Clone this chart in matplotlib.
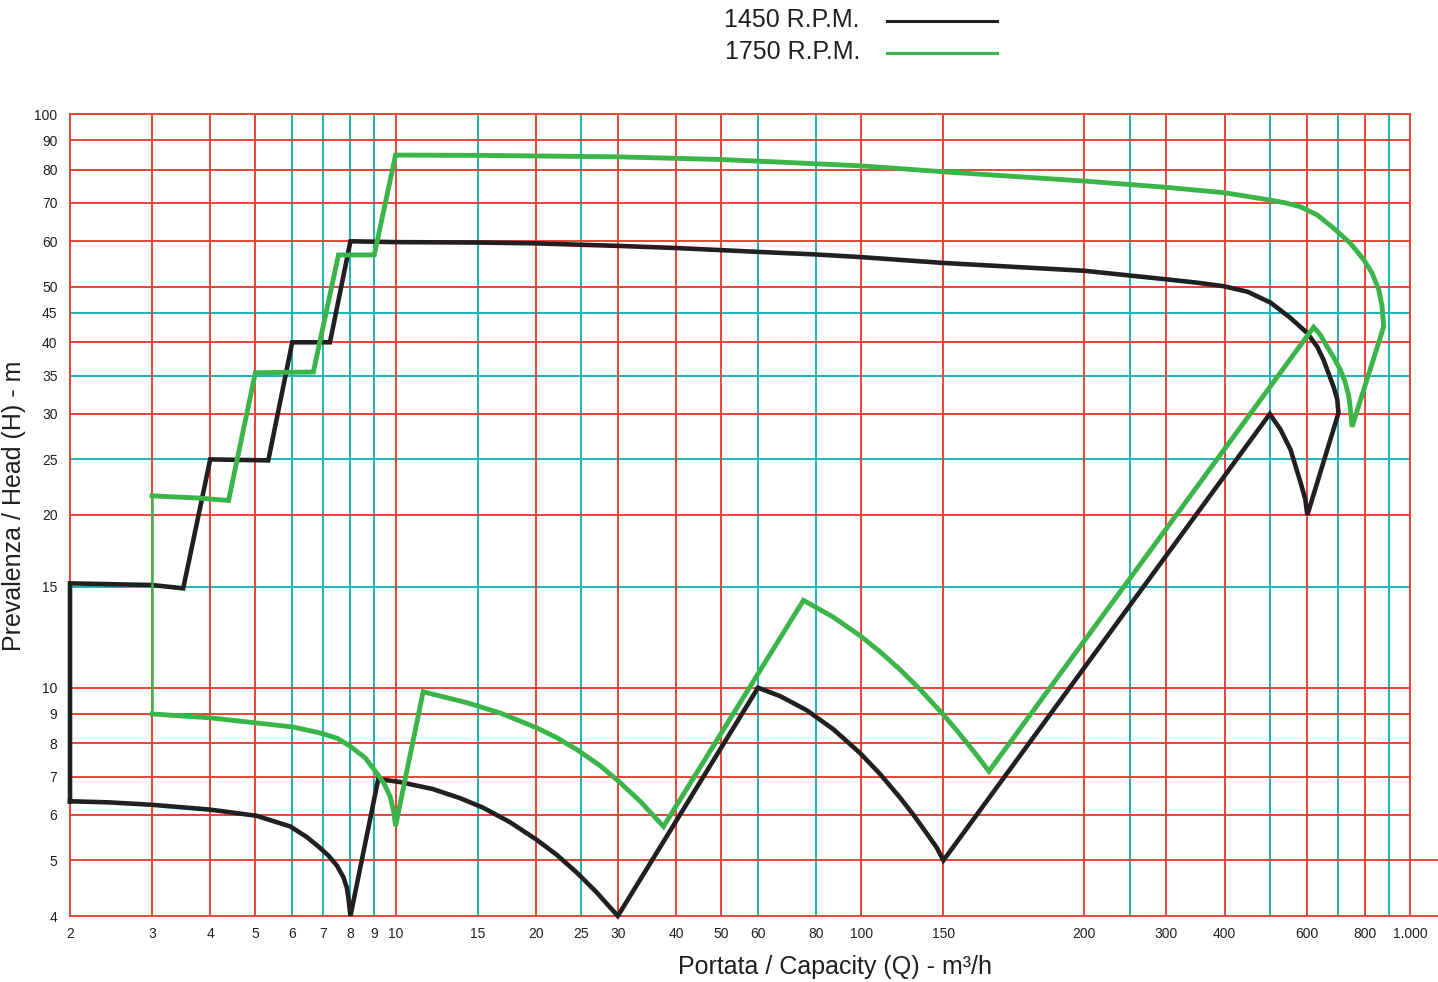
import numpy as np
import matplotlib
matplotlib.use("Agg")
import matplotlib.pyplot as plt
from matplotlib.lines import Line2D
from matplotlib.ticker import NullLocator, FixedLocator, FixedFormatter

plt.rcParams['font.family'] = ['Liberation Sans', 'DejaVu Sans']

# ---------------- data ----------------
# 1450 R.P.M. envelope (Q m3/h, H m)
q_1450 = [2, 2, 3, 3.5, 4, 5.33, 6, 7.23, 8, 10, 15, 20, 30, 40, 60, 80, 100, 150, 200, 250, 300, 350, 398, 448,
          502, 554, 602, 632, 652, 685, 698, 702, 602, 596, 582, 554, 527, 500, 150, 145.2, 138.2, 129.4,
          121.1, 109.7, 99.4, 87.1, 76.4, 66.9, 60, 30, 27.0, 24.5, 22.2, 20.1, 17.6, 15.4, 13.75, 12.0, 10.2,
          9.18, 8, 7.92, 7.86, 7.73, 7.48, 7.17, 6.88, 6.45, 5.94, 5.03, 4.0, 3.0, 2.44, 2]
h_1450 = [6.34, 15.2, 15.1, 14.9, 25.0, 24.9, 40, 40, 60, 59.8, 59.7, 59.5, 58.9, 58.4, 57.5, 56.9, 56.3, 55.0, 53.3,
          52.3, 51.5, 50.8, 50.1, 49.0, 46.9, 44.1, 41.5, 39.3, 37.3, 33.5, 31.8, 30.1, 20.0, 21.3, 22.8, 26.0,
          28.2, 30.0, 5.0, 5.26, 5.57, 6.00, 6.43, 7.07, 7.69, 8.46, 9.13, 9.67, 10.0, 4.0, 4.40, 4.76,
          5.11, 5.43, 5.83, 6.18, 6.42, 6.66, 6.85, 6.93, 4.0, 4.30, 4.48, 4.67, 4.90, 5.10, 5.26, 5.49, 5.73,
          5.98, 6.13, 6.25, 6.31, 6.34]

# 1750 R.P.M. envelope
q_1750 = [3, 3, 3.8, 4.38, 5.0, 6.66, 7.54, 9.0, 10.0, 15, 20, 30, 50, 70, 100, 150, 200, 300, 400, 500, 540,
          582, 632, 686, 745, 796, 829, 857, 871, 878, 751, 745, 739, 725, 709, 685, 664, 642, 621, 164.6,
          161.2, 157.4, 153.2, 147.6, 133.7, 121.1, 109.7, 99.4, 87.1, 75.1, 37.6, 33.5, 30.3, 27.5, 24.5,
          22.2, 20.1, 16.8, 14.2, 12.6, 11.46, 10.0, 9.9, 9.73, 9.45, 9.11, 8.6, 8.0, 7.5, 6.88, 6.03, 5.03,
          4.0, 3]
h_1750 = [9.0, 21.6, 21.4, 21.2, 35.4, 35.5, 56.8, 56.8, 84.8, 84.7, 84.5, 84.2, 83.3, 82.3, 81.2, 79.3, 76.4,
          74.5, 72.9, 70.8, 70.0, 68.9, 66.7, 63.2, 59.5, 55.7, 52.8, 49.4, 46.2, 42.6, 28.5, 30.5, 32.2, 34.2,
          35.8, 37.7, 39.3, 41.2, 42.5, 7.15, 7.55, 8.01, 8.55, 9.10, 9.93, 10.75, 11.55, 12.32, 13.27, 14.2,
          5.73, 6.34, 6.84, 7.31, 7.80, 8.18, 8.51, 9.03, 9.42, 9.65, 9.84, 5.74, 6.1, 6.47, 6.8, 7.10, 7.55,
          7.90, 8.16, 8.34, 8.54, 8.68, 8.86, 9.0]

x_ticks = [2, 3, 4, 5, 6, 7, 8, 9, 10, 15, 20, 25, 30, 40, 50, 60, 80, 100, 150, 200, 300, 400, 600, 800, 1000]
x_tick_labels = ['2', '3', '4', '5', '6', '7', '8', '9', '10', '15', '20', '25', '30', '40', '50', '60', '80',
                 '100', '150', '200', '300', '400', '600', '800', '1.000']
y_ticks = [4, 5, 6, 7, 8, 9, 10, 15, 20, 25, 30, 35, 40, 45, 50, 60, 70, 80, 90, 100]

x_grid_red = [2, 3, 4, 5, 10, 20, 30, 40, 50, 100, 150, 200, 300, 400, 600, 800, 1000]
x_grid_cyan = [6, 7, 8, 9, 15, 25, 60, 80, 250, 500, 700, 900]
y_grid_red = [4, 5, 6, 7, 8, 9, 10, 20, 30, 40, 50, 60, 70, 80, 90, 100]
y_grid_cyan = [15, 25, 35, 45]

series_labels = ['1450 R.P.M.', '1750 R.P.M.']

# ---------------- broken log x scale ----------------
L150 = np.log10(150.0)
L200 = np.log10(200.0)
GAP = 141.0 / 465.7
K = GAP / (L200 - L150)


def fwd(x):
    x = np.asarray(x, dtype=float)
    lx = np.log10(np.maximum(x, 1e-12))
    return np.where(lx <= L150, lx,
                    np.where(lx < L200, L150 + (lx - L150) * K, lx - L200 + L150 + GAP))


def inv(t):
    t = np.asarray(t, dtype=float)
    return np.where(t <= L150, 10 ** t,
                    np.where(t < L150 + GAP, 10 ** (L150 + (t - L150) / K), 10 ** (t - L150 - GAP + L200)))


RED = '#EF4136'
CYAN = '#1AB4B8'
GREEN = '#3BB54A'
BLACK = '#231F20'
TXT = '#231F20'

fig = plt.figure(figsize=(14.38, 9.82), dpi=100)
W, H = 1438.0, 982.0
ax = fig.add_axes([70 / W, (H - 916) / H, 1340 / W, 802 / H])
ax.set_xscale('function', functions=(fwd, inv))
ax.set_yscale('log')
ax.set_xlim(2, 1000)
ax.set_ylim(4, 100)

for s in ax.spines.values():
    s.set_visible(False)

glw = 1.4
for v in x_grid_cyan:
    ax.axvline(v, color=CYAN, lw=glw, zorder=1)
for v in y_grid_cyan:
    ax.axhline(v, color=CYAN, lw=glw, zorder=1)
for v in x_grid_red:
    ax.axvline(v, color=RED, lw=glw, zorder=1.5, clip_on=False)
for v in y_grid_red:
    ext = 1 + 28 / 1340 if v in (4, 5) else 1
    ax.axhline(v, xmin=0, xmax=ext, color=RED, lw=glw, zorder=1.5, clip_on=False)

# curves
ax.plot(q_1450, h_1450, color=BLACK, lw=3.3, solid_joinstyle='miter', zorder=3, clip_on=False)
ax.plot(q_1750[1:], h_1750[1:], color=GREEN, lw=3.5, solid_joinstyle='miter', zorder=4, clip_on=False)
ax.plot(q_1750[:2], h_1750[:2], color=GREEN, lw=1.8, zorder=4, clip_on=False)

ax.xaxis.set_major_locator(FixedLocator(x_ticks))
ax.xaxis.set_major_formatter(FixedFormatter(x_tick_labels))
ax.xaxis.set_minor_locator(NullLocator())
ax.yaxis.set_major_locator(FixedLocator(y_ticks))
ax.yaxis.set_major_formatter(FixedFormatter([str(v) for v in y_ticks]))
ax.yaxis.set_minor_locator(NullLocator())
ax.tick_params(axis='both', length=0, labelsize=10, colors=TXT)
ax.tick_params(axis='x', pad=8)
ax.tick_params(axis='y', pad=9)

ax.set_xlabel('Portata / Capacity (Q) - m³/h', fontsize=18, color=TXT)
ax.xaxis.set_label_coords((835 - 70) / 1340, -(967 - 916) / 802)
ax.xaxis.label.set_va('center')
ax.set_ylabel('Prevalenza / Head (H) - m', fontsize=18, color=TXT)
ax.yaxis.set_label_coords((14 - 70) / 1340, (916 - 506) / 802)
ax.yaxis.label.set_va('center')

# legend (manual, top centre)
for lab, col, yy in zip(series_labels, [BLACK, GREEN], [20, 52]):
    fig.text(860 / W, 1 - yy / H, lab, ha='right', va='center', fontsize=18, color=TXT)
    fig.add_artist(Line2D([887 / W, 997 / W], [1 - (yy + 1) / H, 1 - (yy + 1) / H],
                          color=col, lw=2.2, transform=fig.transFigure))

fig.savefig('out.png', dpi=100)
